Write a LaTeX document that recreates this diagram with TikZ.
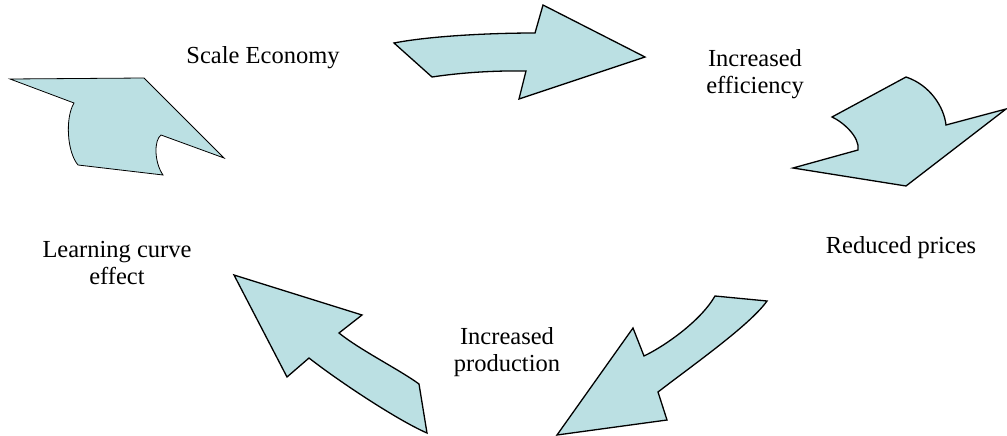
\documentclass[tikz,border=0pt]{standalone}
\usepackage{fontspec}
\setmainfont{Liberation Serif}
\definecolor{arrowfill}{RGB}{187,224,227}
\tikzset{
	bigarrow/.style={draw=black, fill=arrowfill, line width=1.3pt, line join=miter},
	label/.style={align=center, font=\fontsize{24.5}{27}\selectfont, inner sep=0pt}
}

\begin{document}
\begin{tikzpicture}[x=1pt, y=-1pt]
	\useasboundingbox (0,0) rectangle (1007,436);

	% the texts of the cycle
	\node[label] (scale) at (263,58) {Scale Economy};
	\node[label] (eff) at (755,74) {Increased\\efficiency};
	\node[label] (price) at (901,248) {Reduced prices};
	\node[label] (prod) at (507,352) {Increased\\production};
	\node[label] (learn) at (117,263) {Learning curve\\effect};

	% top arrow
	\draw[bigarrow] (394,43) -- (432,77) .. controls (465,72) and (500,70.5) .. (526,71)
		-- (519,99) -- (645,57) -- (543,5) -- (535,33)
		.. controls (490,33) and (430,36) .. (394,43) -- cycle;

	% right arrow
	\draw[bigarrow] (906,77) -- (832,117) .. controls (843,122) and (860,137) .. (858,150)
		-- (793,168) -- (906,186) -- (1006,109) -- (946,125)
		.. controls (944,107) and (930,85) .. (906,77) -- cycle;

	% bottom right arrow
	\draw[bigarrow] (715,296) -- (767,301) .. controls (750,325) and (693,365) .. (658,392)
		-- (667,420) -- (557,435) -- (633,328) -- (644,356)
		.. controls (663,347) and (700,322) .. (715,296) -- cycle;

	% bottom left arrow
	\draw[bigarrow] (234,275) -- (362,315) -- (339,333)
		.. controls (360,350) and (400,370) .. (419,384) -- (427,433)
		.. controls (397,420) and (337,380) .. (309,358) -- (287,377) -- cycle;

	% top left arrow
	\draw[bigarrow, line width=0.8pt] (10,79) -- (144,78) -- (224,158) -- (161,135)
		.. controls (154,140) and (154,162) .. (163,175) -- (78,165)
		.. controls (67,152) and (65,118) .. (74,103) -- cycle;
\end{tikzpicture}
\end{document}
